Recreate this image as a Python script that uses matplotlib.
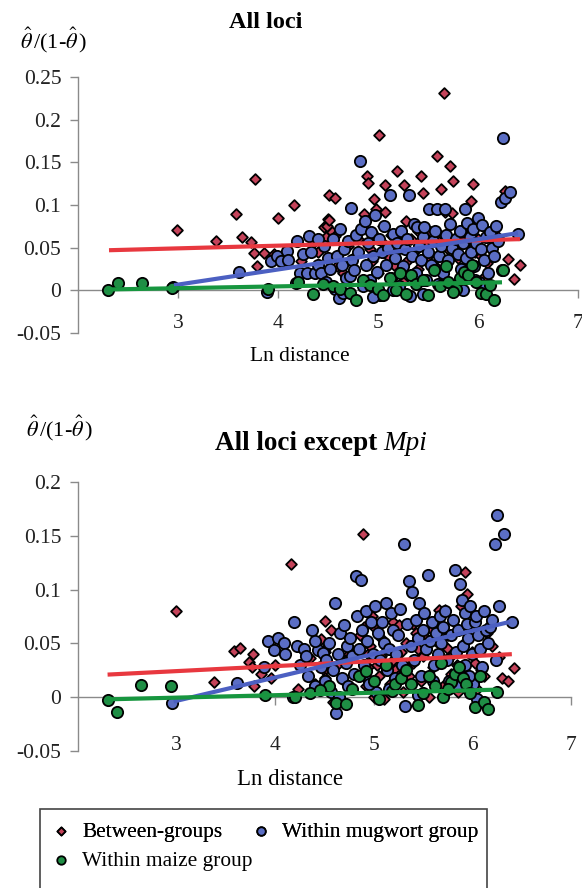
import matplotlib
matplotlib.use("Agg")
import matplotlib.pyplot as plt
from matplotlib.patches import Rectangle
from matplotlib.ticker import FuncFormatter

plt.rcParams['font.family'] = ['Liberation Serif', 'DejaVu Serif']
plt.rcParams['mathtext.fontset'] = 'stix'
plt.rcParams['axes.unicode_minus'] = False

# ---- data: Ln distance shared between panels, theta/(1-theta) per panel ----
# between-groups pairs
between_x = [2.99, 3.38, 3.58, 3.64, 3.73, 3.76, 3.77, 3.79, 3.86, 3.96, 4.00, 4.16,
             4.23, 4.35, 4.46, 4.48, 4.49, 4.50, 4.51, 4.51, 4.54, 4.57, 4.57, 4.59,
             4.63, 4.70, 4.75, 4.80, 4.86, 4.89, 4.90, 4.92, 4.94, 4.94, 4.96, 4.98,
             5.01, 5.03, 5.05, 5.07, 5.07, 5.10, 5.13, 5.16, 5.19, 5.19, 5.22, 5.26,
             5.28, 5.30, 5.33, 5.36, 5.40, 5.43, 5.45, 5.48, 5.50, 5.53, 5.56, 5.59,
             5.60, 5.63, 5.66, 5.67, 5.70, 5.72, 5.74, 5.75, 5.78, 5.80, 5.84, 5.88,
             5.91, 5.93, 5.95, 5.97, 6.00, 6.03, 6.05, 6.09, 6.12, 6.20, 6.27, 6.30,
             6.36, 6.42, 4.40, 4.65, 5.00, 5.40, 5.25, 5.85, 6.15]
between_all = [0.071, 0.058, 0.089, 0.063, 0.057, 0.044, 0.131, 0.028, 0.044, 0.043, 0.085, 0.100,
               0.034, 0.055, 0.074, 0.062, 0.075, 0.084, 0.112, 0.083, 0.068, 0.108, 0.064, 0.029,
               0.045, 0.052, 0.038, 0.060, 0.090, 0.134, 0.126, 0.048, 0.068, 0.034, 0.107, 0.095,
               0.182, 0.058, 0.075, 0.123, 0.092, 0.040, 0.065, 0.030, 0.140, 0.066, 0.050, 0.123,
               0.081, 0.035, 0.060, 0.045, 0.070, 0.134, 0.114, 0.055, 0.040, 0.068, 0.030, 0.157,
               0.058, 0.119, 0.231, 0.092, 0.048, 0.146, 0.091, 0.128, 0.062, 0.038, 0.070, 0.055,
               0.075, 0.105, 0.125, 0.045, 0.060, 0.040, 0.015, 0.032, 0.050, 0.062, 0.116, 0.037,
               0.013, 0.030, 0.045, 0.020, 0.020, 0.025, 0.010, 0.025, 0.070]
between_nompi = [0.080, 0.014, 0.043, 0.046, 0.033, 0.028, 0.040, 0.010, 0.022, 0.018, 0.030, 0.124,
                 0.008, 0.036, 0.054, 0.030, 0.025, 0.042, 0.071, 0.018, 0.048, 0.062, 0.005, -0.004,
                 0.030, 0.015, 0.040, 0.022, 0.058, 0.152, 0.065, 0.010, 0.040, 0.028, 0.048, 0.075,
                 0.064, 0.030, 0.020, 0.055, 0.038, -0.002, 0.045, 0.012, 0.070, 0.035, 0.025, 0.067,
                 0.042, 0.005, 0.050, 0.020, 0.032, 0.060, 0.045, 0.015, 0.038, 0.055, 0.000, 0.062,
                 0.028, 0.052, 0.081, 0.035, 0.010, 0.081, 0.046, 0.058, 0.022, 0.040, 0.030, 0.085,
                 0.050, 0.116, 0.096, 0.015, 0.042, 0.032, 0.008, 0.025, 0.020, 0.048, 0.037, 0.018,
                 0.015, 0.027, 0.012, 0.038, 0.000, 0.068, 0.020, 0.005, 0.060]

# within mugwort group pairs
mugwort_x = [2.95, 3.61, 3.89, 3.93, 3.99, 4.03, 4.09, 4.19, 4.18, 4.22, 4.25, 4.29,
             4.31, 4.33, 4.37, 4.40, 4.43, 4.46, 4.48, 4.50, 4.52, 4.55, 4.57, 4.59,
             4.61, 4.62, 4.64, 4.66, 4.68, 4.70, 4.72, 4.73, 4.74, 4.76, 4.78, 4.80,
             4.82, 4.83, 4.85, 4.87, 4.88, 4.90, 4.92, 4.93, 4.95, 4.97, 4.99, 5.01,
             5.02, 5.04, 5.06, 5.08, 5.10, 5.12, 5.13, 5.15, 5.17, 5.19, 5.21, 5.23,
             5.25, 5.27, 5.29, 5.31, 5.32, 5.34, 5.36, 5.38, 5.39, 5.41, 5.43, 5.45,
             5.46, 5.48, 5.50, 5.51, 5.53, 5.55, 5.57, 5.59, 5.61, 5.63, 5.65, 5.67,
             5.68, 5.70, 5.72, 5.74, 5.76, 5.78, 5.80, 5.82, 5.83, 5.85, 5.87, 5.88,
             5.89, 5.90, 5.92, 5.93, 5.95, 5.96, 5.98, 6.00, 6.01, 6.03, 6.04, 6.06,
             6.08, 6.10, 6.12, 6.14, 6.16, 6.18, 6.20, 6.23, 6.24, 6.25, 6.27, 6.32,
             6.40, 4.65, 4.95, 5.15, 5.45, 5.60, 5.85, 5.97, 6.05, 4.40, 4.10]
mugwort_all = [0.004, 0.022, -0.002, 0.034, 0.040, 0.034, 0.046, 0.058, 0.009, 0.020, 0.042, 0.020,
               0.064, 0.045, 0.020, 0.030, 0.020, 0.052, 0.010, 0.038, 0.025, 0.060, 0.002, 0.040,
               -0.009, 0.072, 0.030, 0.048, 0.015, 0.058, 0.017, 0.096, 0.035, 0.024, 0.065, 0.045,
               0.152, 0.072, 0.005, 0.081, 0.030, 0.055, 0.012, 0.068, 0.040, 0.088, 0.022, 0.060,
               -0.005, 0.045, 0.075, 0.030, 0.050, 0.112, 0.015, 0.066, 0.038, 0.055, 0.005, 0.070,
               0.028, 0.048, 0.060, 0.112, -0.007, 0.040, 0.078, 0.020, 0.074, 0.052, 0.035, 0.062,
               0.074, 0.012, 0.045, 0.095, 0.030, 0.058, 0.070, 0.095, 0.040, 0.052, 0.020, 0.095,
               0.065, 0.035, 0.078, 0.050, 0.005, 0.060, 0.042, 0.070, 0.025, 0.055, 0.095, 0.038,
               0.079, 0.015, 0.062, 0.045, 0.072, 0.028, 0.055, 0.085, 0.010, 0.048, 0.077, 0.035,
               0.062, 0.020, 0.068, 0.050, 0.040, 0.075, 0.058, 0.103, 0.024, 0.179, 0.108, 0.115,
               0.066, -0.003, -0.008, 0.000, -0.004, 0.008, 0.000, 0.012, 0.005, 0.060, 0.035]
mugwort_nompi = [-0.005, 0.013, 0.028, 0.052, 0.044, 0.055, 0.050, 0.070, 0.000, 0.048, 0.030, 0.045,
                 0.038, 0.020, 0.062, 0.010, 0.044, 0.028, 0.041, 0.015, 0.035, 0.050, 0.005, 0.025,
                 0.088, -0.015, 0.040, 0.060, 0.018, 0.067, 0.032, 0.048, 0.010, 0.055, 0.038, 0.022,
                 0.113, 0.075, 0.045, 0.109, 0.062, 0.030, 0.080, 0.052, 0.015, 0.070, 0.040, 0.085,
                 0.005, 0.060, 0.035, 0.070, 0.050, 0.088, 0.025, 0.045, 0.078, 0.062, 0.018, 0.040,
                 0.058, 0.082, 0.030, 0.142, -0.008, 0.068, 0.108, 0.048, 0.098, 0.035, 0.072, 0.055,
                 0.088, 0.020, 0.062, 0.078, 0.045, 0.114, 0.052, 0.070, 0.030, 0.060, 0.040, 0.075,
                 0.050, 0.065, 0.080, 0.035, 0.015, 0.058, 0.072, 0.118, 0.042, 0.062, 0.105, 0.025,
                 0.090, 0.048, 0.078, 0.030, 0.068, 0.055, 0.085, 0.040, 0.012, 0.070, 0.075, 0.058,
                 0.045, 0.028, 0.080, 0.062, 0.050, 0.065, 0.072, 0.142, 0.035, 0.169, 0.085, 0.152,
                 0.070, 0.000, 0.012, 0.008, 0.002, 0.015, 0.010, 0.020, -0.002, 0.052, 0.040]

# within maize group pairs
maize_x = [2.30, 2.40, 2.64, 2.94, 3.90, 4.20, 4.35, 4.55, 4.62, 4.72, 4.78, 4.85,
           4.92, 5.00, 5.05, 5.12, 5.18, 5.22, 5.28, 5.33, 5.38, 5.45, 5.50, 5.56,
           5.62, 5.70, 5.78, 5.82, 5.86, 5.90, 5.94, 5.98, 6.03, 6.08, 6.12, 6.25,
           4.45, 5.68, 5.75, 6.16]
maize_all = [0.000, 0.009, 0.009, 0.003, 0.002, 0.010, -0.004, 0.005, 0.002, -0.003, -0.011, 0.012,
             0.006, 0.001, -0.006, 0.015, 0.000, 0.020, -0.004, 0.018, 0.008, 0.012, -0.005, 0.024,
             0.005, 0.010, 0.002, 0.015, 0.022, 0.018, 0.030, 0.010, -0.003, -0.004, 0.006, 0.024,
             0.008, 0.028, -0.002, -0.011]
maize_nompi = [-0.003, -0.014, 0.011, 0.010, 0.002, 0.000, 0.004, 0.010, -0.005, -0.006, 0.008, 0.020,
               0.024, 0.015, -0.002, 0.030, 0.006, 0.012, 0.018, 0.025, 0.012, -0.007, 0.004, 0.020,
               0.010, 0.000, 0.014, 0.022, 0.028, 0.018, 0.012, 0.004, -0.009, 0.020, -0.004, 0.005,
               0.007, 0.032, 0.008, -0.011]

# linear trend lines (end points)
trend_all = {
    'between': ([2.31, 6.42], [0.047, 0.060]),
    'mugwort': ([2.96, 6.40], [0.006, 0.067]),
    'maize': ([2.30, 6.24], [0.001, 0.0094]),
}
trend_nompi = {
    'between': ([2.30, 6.40], [0.021, 0.040]),
    'mugwort': ([2.97, 6.38], [-0.004, 0.070]),
    'maize': ([2.30, 6.25], [-0.002, 0.007]),
}

labels = {'between': 'Between-groups', 'mugwort': 'Within mugwort group',
          'maize': 'Within maize group'}
face = {'between': '#c4435a', 'mugwort': '#5b6ec4', 'maize': '#1f8e45'}
line_col = {'between': '#e8383f', 'mugwort': '#4c60c2', 'maize': '#17963f'}

W, H = 582, 888
fig = plt.figure(figsize=(W / 100, H / 100), dpi=100)


def px_axes(left, right, top, bottom):
    return fig.add_axes([left / W, 1 - bottom / H, (right - left) / W, (bottom - top) / H])


def style_axes(ax, ylim, yticks, xpad):
    ax.set_xlim(2, 7)
    ax.set_ylim(*ylim)
    for s in ['top', 'right']:
        ax.spines[s].set_visible(False)
    ax.spines['bottom'].set_position(('data', 0))
    for s in ['left', 'bottom']:
        ax.spines[s].set_color('#8a8a8a')
        ax.spines[s].set_linewidth(1.0)
    ax.set_xticks([3, 4, 5, 6, 7])
    ax.set_yticks(yticks)
    ax.yaxis.set_major_formatter(FuncFormatter(lambda v, _: '%g' % round(v, 3)))
    ax.tick_params(axis='both', direction='out', length=6, width=1.0, color='#8a8a8a',
                   labelsize=15.5, labelcolor='#222222')
    ax.tick_params(axis='x', pad=xpad)
    ax.tick_params(axis='y', pad=6)


def draw_panel(ax, ys, trends):
    xs = {'between': between_x, 'mugwort': mugwort_x, 'maize': maize_x}
    handles = {}
    for key, marker, size in [('between', 'D', 30), ('mugwort', 'o', 66), ('maize', 'o', 66)]:
        handles[key] = ax.scatter(xs[key], ys[key], s=size, marker=marker, c=face[key],
                                  edgecolors='black', linewidths=1.3, label=labels[key],
                                  zorder=3, clip_on=False)
    for key in ['between', 'mugwort', 'maize']:
        tx, ty = trends[key]
        ax.plot(tx, ty, color=line_col[key], lw=3.0, zorder=5, solid_capstyle='butt')
    return handles


# top panel: all loci
ax1 = px_axes(78, 578, 77, 333)
style_axes(ax1, (-0.05, 0.25), [-0.05, 0, 0.05, 0.1, 0.15, 0.2, 0.25], 11)
h = draw_panel(ax1, {'between': between_all, 'mugwort': mugwort_all, 'maize': maize_all}, trend_all)

# bottom panel: all loci except Mpi
ax2 = px_axes(78, 571, 482, 751)
style_axes(ax2, (-0.05, 0.2), [-0.05, 0, 0.05, 0.1, 0.15, 0.2], 22)
draw_panel(ax2, {'between': between_nompi, 'mugwort': mugwort_nompi, 'maize': maize_nompi}, trend_nompi)

ylab = r'$\hat{\theta}\,$/(1-$\hat{\theta}\,$)'
fig.text(54 / W, 1 - 40 / H, ylab, fontsize=16, ha='center', va='center')
fig.text(60 / W, 1 - 428 / H, ylab, fontsize=16, ha='center', va='center')

fig.text(266 / W, 1 - 23 / H, 'All loci', fontsize=17.5, weight='bold', ha='center', va='center')
t1 = fig.text(215 / W, 1 - 443 / H, 'All loci except', fontsize=19.5, weight='bold',
              ha='left', va='center')
fig.canvas.draw()
bb = t1.get_window_extent(fig.canvas.get_renderer())
fig.text((bb.x1 + 6) / W, 1 - 443 / H, 'Mpi', fontsize=19.5, style='italic',
         ha='left', va='center')

fig.text(300 / W, 1 - 356 / H, 'Ln distance', fontsize=15.5, ha='center', va='center')
fig.text(290 / W, 1 - 779 / H, 'Ln distance', fontsize=16.5, ha='center', va='center')

# legend box (runs off the bottom edge as in the source)
fig.add_artist(Rectangle((40 / W, 1 - 900 / H), 447 / W, 91 / H, transform=fig.transFigure,
                         fill=False, edgecolor='#444444', lw=1.2))
leg_kw = dict(loc='upper left', frameon=False, fontsize=15.4, markerscale=0.75,
              handlelength=1.0, handletextpad=0.5, borderpad=0, borderaxespad=0)
leg1 = fig.legend([h['between'], h['mugwort']], [labels['between'], labels['mugwort']],
                  bbox_to_anchor=(50 / W, 1 - 822 / H), ncol=2, columnspacing=1.3, **leg_kw)
fig.add_artist(leg1)
fig.legend([h['maize']], [labels['maize']], bbox_to_anchor=(50 / W, 1 - 851 / H), **leg_kw)

fig.savefig('out.png', dpi=100)
